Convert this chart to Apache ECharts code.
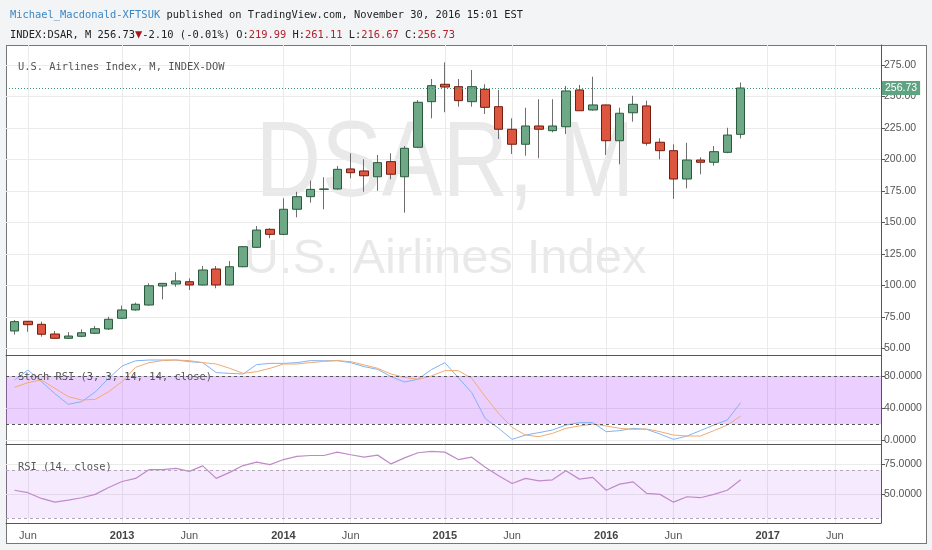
<!DOCTYPE html>
<html>
<head>
<meta charset="utf-8">
<script src="https://cdn.jsdelivr.net/npm/echarts@6/dist/echarts.min.js"></script>
<style>
html, body { margin: 0; padding: 0; background: #f2f4f6; }
#frame { position: absolute; left: 6px; top: 45px; width: 919px; height: 497px; background: #fff; border: 1px solid #777; }
#chart { position: absolute; left: 0; top: 0; width: 932px; height: 550px; }
</style>
</head>
<body>
<div id="frame"></div>
<div id="chart"></div>
<script>
// monthly bars, index 0 = May 2012 ... 54 = Nov 2016
var opens = [63.9, 71.6, 69.2, 61.5, 58.1, 59.7, 62.1, 65.5, 74.0, 80.6,
    84.5, 99.6, 101.2, 103.0, 100.4, 113.1, 100.4, 114.9, 130.3, 144.6,
    140.6, 160.5, 170.5, 176.3, 176.6, 192.5, 190.9, 186.3, 198.3, 186.3,
    209.7, 245.9, 259.7, 257.8, 245.9, 255.7, 241.9, 224.0, 212.1, 226.6,
    222.9, 226.0, 255.2, 239.3, 243.3, 214.9, 237.1, 242.5, 213.7, 207.0,
    184.5, 199.6, 197.8, 205.7, 219.99];
var closes = [71.3, 68.9, 61.3, 58.1, 59.9, 62.5, 65.7, 73.2, 80.6, 85.1,
    99.8, 101.7, 103.6, 100.4, 112.3, 100.4, 114.9, 130.8, 144.0, 140.6,
    160.5, 170.5, 176.3, 176.6, 192.2, 189.5, 187.1, 197.5, 188.3, 208.9,
    245.4, 258.6, 257.5, 246.7, 257.8, 241.4, 224.0, 212.1, 226.6, 224.0,
    226.6, 254.4, 238.7, 243.3, 214.9, 236.7, 243.8, 212.9, 207.0, 184.5,
    199.6, 197.8, 206.2, 219.4, 256.73];
var lows = [61.0, 63.3, 59.4, 57.8, 57.8, 59.0, 61.5, 64.7, 73.5, 80.0,
    84.0, 89.0, 99.0, 96.4, 100.0, 97.8, 100.0, 114.5, 130.0, 137.5,
    140.0, 154.1, 165.7, 160.5, 176.0, 185.1, 174.4, 175.2, 184.3, 157.8,
    209.0, 232.7, 237.5, 241.9, 241.9, 236.1, 216.3, 204.4, 203.0, 201.0,
    221.6, 220.2, 238.5, 238.8, 203.6, 196.2, 230.0, 211.0, 200.2, 168.7,
    177.1, 188.3, 195.1, 205.0, 216.67];
var highs = [72.6, 71.8, 71.3, 63.9, 63.1, 65.2, 67.9, 75.2, 84.0, 86.4,
    101.7, 102.0, 110.5, 105.7, 115.5, 115.5, 119.4, 131.3, 147.2, 145.4,
    169.2, 174.4, 183.2, 185.9, 194.8, 204.9, 200.2, 203.6, 204.9, 210.7,
    247.2, 263.9, 277.1, 263.9, 271.0, 259.7, 255.2, 232.7, 241.1, 247.8,
    247.8, 258.3, 259.1, 265.7, 243.5, 241.1, 250.6, 246.7, 216.8, 212.1,
    213.3, 201.7, 210.7, 225.2, 261.11];

var stochK = [75, 87.5, 73, 58, 44.6, 48, 60, 77, 92.5, 99,
    100, 100, 100, 97.9, 96.7, 84.2, 83.3, 82.5, 94.2, 95.8,
    95.8, 96.7, 99.2, 99, 99.2, 96.7, 91.7, 88.3, 79.2, 72.5,
    76, 88, 96.7, 77.9, 59.2, 26.9, 14.6, 0.8, 6.2, 9.2,
    12.5, 18.7, 21.7, 21.7, 10.4, 11.7, 14.6, 13.3, 7.5, 0.8,
    5, 11.7, 18.7, 25, 46.7];
var stochD = [65.8, 71.7, 75, 64.6, 54.2, 50, 50.8, 60.4, 72.9, 90.8,
    96.7, 99.2, 100, 99.2, 96.7, 95, 89.6, 83.3, 85.4, 89.6,
    95, 95, 96.7, 98.3, 99.2, 97.9, 93.8, 89.6, 82.5, 78.3,
    75.8, 80, 86.7, 86.7, 77.1, 54.2, 33.3, 15.8, 6.2, 4.2,
    8.3, 14.6, 17.5, 20, 17.5, 14.6, 13.3, 13.8, 10.4, 6.2,
    5, 5, 11.7, 18.7, 30];
var rsi = [53.1, 51.1, 46.3, 43.2, 44.9, 46.9, 49.7, 55.4, 60.4, 63.0,
    70.3, 70.3, 71.4, 68.9, 73.4, 63.0, 68.0, 73.7, 76.5, 74.5,
    78.7, 81.3, 82.1, 82.1, 84.9, 82.7, 80.7, 82.4, 75.1, 80.1,
    84.4, 85.5, 84.9, 78.7, 80.7, 72.3, 65.2, 58.7, 63.0, 61.0,
    61.8, 69.4, 62.4, 63.8, 53.1, 58.2, 60.1, 50.6, 49.7, 43.2,
    47.7, 46.9, 49.7, 53.1, 61.8];

var xTickIdx = [1, 8, 13, 20, 25, 32, 37, 44, 49, 56, 61];
var xTickText = ['Jun', '2013', 'Jun', '2014', 'Jun', '2015', 'Jun', '2016', 'Jun', '2017', 'Jun'];
var priceTicks = [50, 75, 100, 125, 150, 175, 200, 225, 250, 275];
var stochTicks = [0, 40, 80];
var rsiTicks = [50, 75];
var lastPrice = 256.73;

var mono = 'DejaVu Sans Mono';
var sans = 'Liberation Sans';
var xMin = -0.632, xMax = 64.43;

var wickData = opens.map(function (o, i) {
    return [i, o, closes[i], lows[i], highs[i]];
});
var bodyData = opens.map(function (o, i) {
    var c = closes[i];
    return [i, o, c, Math.min(o, c), Math.max(o, c)];
});
function pairs(arr) {
    return arr.map(function (v, i) { return [i, v]; });
}

function makeX(gi, showLabel) {
    return {
        type: 'value',
        gridIndex: gi,
        min: xMin,
        max: xMax,
        axisLine: { show: true, onZero: false, lineStyle: { color: '#555' } },
        axisTick: { show: false, customValues: xTickIdx },
        axisLabel: {
            show: showLabel,
            customValues: xTickIdx,
            color: '#555',
            fontFamily: sans,
            fontSize: 11,
            margin: 7,
            formatter: function (v) {
                var t = xTickText[xTickIdx.indexOf(Math.round(v))];
                return /^\d/.test(t) ? '{y|' + t + '}' : t;
            },
            rich: { y: { fontWeight: 'bold', color: '#444', fontFamily: sans, fontSize: 11 } }
        },
        splitLine: { show: true, lineStyle: { color: '#ebebeb' } }
    };
}

function makeY(gi, min, max, ticks, digits) {
    return {
        type: 'value',
        gridIndex: gi,
        position: 'right',
        min: min,
        max: max,
        axisLine: { show: true, onZero: false, lineStyle: { color: '#555' } },
        axisTick: { show: true, length: 4, customValues: ticks, lineStyle: { color: '#555' } },
        axisLabel: {
            customValues: ticks,
            color: '#555',
            fontFamily: sans,
            fontSize: 10.5,
            margin: 3,
            formatter: function (v) { return v.toFixed(digits); }
        },
        splitLine: { show: true, lineStyle: { color: '#ebebeb' } }
    };
}

var chart = echarts.init(document.getElementById('chart'));

chart.setOption({
    animation: false,
    title: [
        {
            left: 5, top: 5,
            text: '{n|Michael_Macdonald-XFTSUK} published on TradingView.com, November 30, 2016 15:01 EST',
            textStyle: {
                fontFamily: mono, fontSize: 10.4, fontWeight: 'normal', color: '#222',
                rich: { n: { fontFamily: mono, fontSize: 10.4, color: '#3b87c6' } }
            }
        },
        {
            left: 5, top: 24,
            text: 'INDEX:DSAR, M 256.73{d|▼}-2.10 (-0.01%) O:{r|219.99} H:{r|261.11} L:{r|216.67} C:{r|256.73}',
            textStyle: {
                fontFamily: mono, fontSize: 10.4, fontWeight: 'normal', color: '#222',
                rich: {
                    d: { fontFamily: mono, fontSize: 12, color: '#a3141c' },
                    r: { fontFamily: mono, fontSize: 10.4, color: '#b0232b' }
                }
            }
        },
        {
            left: 13, top: 57,
            text: 'U.S. Airlines Index, M, INDEX-DOW',
            textStyle: { fontFamily: mono, fontSize: 10.4, fontWeight: 'normal', color: '#555' }
        },
        {
            left: 13, top: 367,
            text: 'Stoch RSI (3, 3, 14, 14, close)',
            textStyle: { fontFamily: mono, fontSize: 10.4, fontWeight: 'normal', color: '#555' }
        },
        {
            left: 13, top: 457,
            text: 'RSI (14, close)',
            textStyle: { fontFamily: mono, fontSize: 10.4, fontWeight: 'normal', color: '#555' }
        }
    ],
    graphic: [
        {
            type: 'text', x: 445, y: 166, z: -10, scaleX: 0.85,
            style: {
                text: 'DSAR, M', fontFamily: sans, fontSize: 107,
                fill: 'rgba(0,0,0,0.085)', align: 'center', verticalAlign: 'middle'
            }
        },
        {
            type: 'text', x: 445, y: 259, z: -10,
            style: {
                text: 'U.S. Airlines Index', fontFamily: sans, fontSize: 49,
                fill: 'rgba(0,0,0,0.085)', align: 'center', verticalAlign: 'middle'
            }
        }
    ],
    grid: [
        { left: 6, right: 51, top: 45, height: 310 },
        { left: 6, right: 51, top: 355, height: 89 },
        { left: 6, right: 51, top: 444, height: 79 }
    ],
    xAxis: [makeX(0, false), makeX(1, false), makeX(2, true)],
    yAxis: [
        makeY(0, 44.84, 290.87, priceTicks, 2),
        makeY(1, -5, 106.25, stochTicks, 4),
        makeY(2, 25.83, 91.67, rsiTicks, 4)
    ],
    series: [
        {
            type: 'candlestick',
            name: 'wick',
            xAxisIndex: 0, yAxisIndex: 0,
            encode: { x: 0, y: [1, 2, 3, 4] },
            barWidth: 1,
            data: wickData,
            itemStyle: { color: '#6e6e6e', color0: '#6e6e6e', borderColor: '#6e6e6e', borderColor0: '#6e6e6e', borderWidth: 1 }
        },
        {
            type: 'candlestick',
            name: 'DSAR',
            xAxisIndex: 0, yAxisIndex: 0,
            encode: { x: 0, y: [1, 2, 3, 4] },
            barWidth: 9,
            z: 3,
            data: bodyData,
            itemStyle: {
                color: '#6ea886', color0: '#dc5640',
                borderColor: '#2a5a3c', borderColor0: '#741c10', borderWidth: 1
            },
            markLine: {
                silent: true,
                symbol: 'none',
                lineStyle: { color: '#3d9270', type: [1, 2], width: 1 },
                label: {
                    position: 'end', distance: 1,
                    formatter: lastPrice.toFixed(2),
                    color: '#fff', backgroundColor: '#5fa383',
                    fontFamily: sans, fontSize: 10.5, padding: [2, 3, 1, 3]
                },
                data: [{ yAxis: lastPrice }]
            }
        },
        {
            type: 'line',
            name: '%K',
            xAxisIndex: 1, yAxisIndex: 1,
            data: pairs(stochK),
            showSymbol: false,
            lineStyle: { color: '#7fb3f2', width: 1 },
            markArea: {
                silent: true,
                itemStyle: { color: 'rgba(153,21,255,0.2)' },
                data: [[{ yAxis: 20 }, { yAxis: 80 }]]
            }
        },
        {
            type: 'line',
            name: '%D',
            xAxisIndex: 1, yAxisIndex: 1,
            data: pairs(stochD),
            showSymbol: false,
            lineStyle: { color: '#f3a970', width: 1 },
            markLine: {
                silent: true,
                symbol: 'none',
                label: { show: false },
                lineStyle: { color: '#555', type: [3, 3], width: 1 },
                data: [{ yAxis: 80 }, { yAxis: 20 }]
            }
        },
        {
            type: 'line',
            name: 'RSI',
            xAxisIndex: 2, yAxisIndex: 2,
            data: pairs(rsi),
            showSymbol: false,
            lineStyle: { color: '#c08ac9', width: 1.2 },
            markArea: {
                silent: true,
                itemStyle: { color: 'rgba(153,21,255,0.09)' },
                data: [[{ yAxis: 30 }, { yAxis: 70 }]]
            },
            markLine: {
                silent: true,
                symbol: 'none',
                label: { show: false },
                lineStyle: { color: '#b3a6ba', type: [3, 3], width: 1 },
                data: [{ yAxis: 70 }, { yAxis: 30 }]
            }
        }
    ]
});
</script>
</body>
</html>
